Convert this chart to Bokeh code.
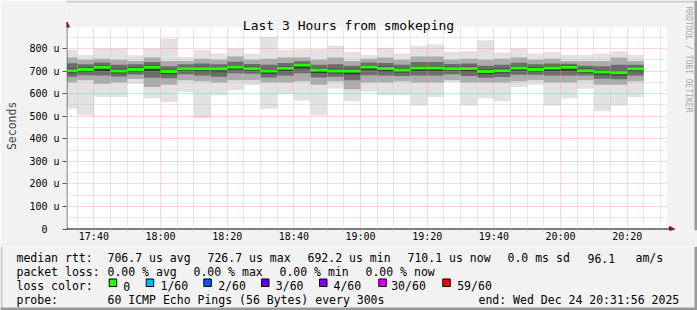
from bokeh.plotting import figure
from bokeh.layouts import column
from bokeh.models import (Range1d, FixedTicker, Label, Arrow, NormalHead,
                          BoxAnnotation, CustomJSTickFormatter, ColumnDataSource)
from bokeh.core.properties import value
from bokeh.embed import file_html
from bokeh.resources import INLINE

# ---------------- data ----------------
TITLE = "Last 3 Hours from smokeping"
RANGE_START = "17:31:56"
RANGE_HOURS = 3
END_TEXT = "Wed Dec 24 20:31:56 2025"
Y_TOP = 893.3  # microseconds at top of the graph canvas

# end time of each 5-minute (300 s) sample
bar_end = ["17:35", "17:40", "17:45", "17:50", "17:55", "18:00", "18:05",
           "18:10", "18:15", "18:20", "18:25", "18:30", "18:35", "18:40",
           "18:45", "18:50", "18:55", "19:00", "19:05", "19:10", "19:15",
           "19:20", "19:25", "19:30", "19:35", "19:40", "19:45", "19:50",
           "19:55", "20:00", "20:05", "20:10", "20:15", "20:20", "20:25"]

# RTT distribution of the 60 pings per sample (microseconds)
rtt_max = [793, 773, 800, 800, 770, 800, 844, 763, 793, 778, 800, 778, 852, 793,
           797, 797, 812, 785, 773, 803, 778, 812, 819, 785, 788, 837, 782, 800,
           778, 785, 773, 773, 778, 788, 773]
rtt_p90 = [760, 750, 755, 750, 745, 760, 745, 745, 755, 750, 765, 750, 755, 760,
           760, 750, 760, 745, 755, 760, 750, 765, 765, 750, 755, 750, 755, 760,
           750, 755, 745, 745, 745, 760, 745]
rtt_p75 = [735, 730, 738, 728, 730, 740, 722, 730, 734, 730, 742, 732, 728, 736,
           744, 728, 730, 724, 738, 736, 728, 740, 740, 732, 734, 724, 728, 737,
           730, 734, 733, 724, 722, 728, 728]
rtt_p60 = [712, 716, 726, 710, 716, 726, 706, 718, 719, 718, 727, 719, 709, 722,
           735, 714, 710, 710, 727, 720, 714, 723, 723, 719, 720, 707, 711, 723,
           716, 723, 726, 711, 705, 701, 719]
rtt_median = [702.0, 707.0, 717.0, 701.0, 707.0, 717.0, 698.0, 710.0, 710.0, 710.0,
              718.0, 710.0, 700.0, 713.0, 726.7, 705.0, 701.0, 701.0, 718.0, 711.0,
              705.0, 714.0, 714.0, 710.0, 711.0, 698.0, 702.0, 714.0, 707.0, 714.0,
              717.0, 702.0, 696.0, 692.2, 710.1]
rtt_p40 = [690, 696, 700, 690, 697, 700, 686, 700, 698, 695, 707, 700, 688, 700,
           712, 692, 690, 685, 705, 698, 694, 700, 700, 700, 698, 686, 690, 702,
           697, 700, 702, 692, 684, 680, 698]
rtt_p25 = [675, 682, 680, 676, 685, 670, 668, 686, 680, 675, 690, 688, 672, 680,
           690, 672, 675, 660, 682, 680, 678, 680, 680, 686, 678, 670, 674, 684,
           684, 680, 680, 680, 666, 664, 680]
rtt_p10 = [650, 660, 644, 650, 665, 630, 640, 660, 655, 650, 660, 660, 650, 650,
           655, 640, 655, 620, 650, 650, 655, 650, 650, 660, 650, 650, 650, 655,
           660, 650, 650, 660, 640, 640, 655]
rtt_min = [533, 504, 585, 585, 644, 580, 563, 607, 492, 593, 615, 637, 533, 600,
           570, 504, 622, 566, 610, 593, 593, 548, 585, 652, 548, 578, 566, 630,
           640, 548, 578, 622, 522, 548, 585]

x_tick_labels = ["17:40", "18:00", "18:20", "18:40", "19:00", "19:20",
                 "19:40", "20:00", "20:20"]
y_ticks = [0, 100, 200, 300, 400, 500, 600, 700, 800]

median_avg, median_max, median_min, median_now = 706.7, 726.7, 692.2, 710.1
sd_ms, am_s = 0.0, 96.1
loss_avg, loss_max, loss_min, loss_now = 0.00, 0.00, 0.00, 0.00
loss_labels = ["0", "1/60", "2/60", "3/60", "4/60", "30/60", "59/60"]
loss_colors = ["#26ff00", "#00b8ff", "#0059ff", "#5e00ff", "#7e00ff", "#dd00ff", "#ff0000"]
probe_text = "60 ICMP Echo Pings (56 Bytes) every 300s"


def to_min(s):
    parts = [int(v) for v in s.split(":")]
    while len(parts) < 3:
        parts.append(0)
    return parts[0] * 60 + parts[1] + parts[2] / 60.0


# ---------------- geometry (page pixels) ----------------
W, H = 697, 310
H1 = 246                    # height of the graph figure; legend figure below
FL, FB = 66, 230            # graph frame left / bottom (frame runs to top/right edge)
PX_X0, PX_X1 = 66.5, 666.5  # pixels of range start / end
PX_Y0 = 228.5               # pixel of 0 s
PX_YTOP = 27                # pixel of top of graph canvas
BG = "#f2f2f2"
MONO = "DejaVu Sans Mono"

x0 = to_min(RANGE_START)
x1 = x0 + RANGE_HOURS * 60
XPP = (x1 - x0) / (PX_X1 - PX_X0)            # minutes per pixel
YPP = Y_TOP / (PX_Y0 - PX_YTOP)              # microseconds per pixel


def X(px):
    return x0 + (px - PX_X0) * XPP


def Y(py):
    return (PX_Y0 - py) * YPP


p = figure(width=W, height=H1, output_backend="svg", toolbar_location=None,
           x_range=Range1d(X(FL), X(W)), y_range=Range1d(Y(FB), Y(0)),
           min_border_left=FL, min_border_right=0,
           min_border_top=0, min_border_bottom=H1 - FB)
p.frame_align = False
p.title.visible = False
p.background_fill_color = BG
p.border_fill_color = BG
p.outline_line_color = None

# graph canvas (white)
p.quad(left=[x0], right=[x1], bottom=[0], top=[Y_TOP], fill_color="white", line_color=None)

# ---------------- smoke ----------------
rights = [to_min(t) for t in bar_end]
lefts = [max(r - 5, x0) for r in rights]
p.quad(left=lefts, right=rights, bottom=rtt_min, top=rtt_max,
       fill_color="#e2e2e2", line_color=None)
p.quad(left=lefts, right=rights, bottom=rtt_p10, top=rtt_p90,
       fill_color="#acacac", line_color=None)
p.quad(left=lefts, right=rights, bottom=rtt_p25, top=rtt_p75,
       fill_color="#6c6c6c", line_color=None)
p.quad(left=lefts, right=rights, bottom=rtt_p40, top=rtt_p60,
       fill_color="#383838", line_color=None)
p.segment(x0=lefts, x1=rights, y0=rtt_median, y1=rtt_median,
          line_color=loss_colors[0], line_width=3)

# ---------------- axes & grid ----------------
x_major = [to_min(t) for t in x_tick_labels]
x_minor = [m for m in [to_min("17:35") + 5 * i for i in range(36)]
           if m < x1 and all(abs(m - t) > 0.01 for t in x_major)]
y_minor = [50 + 100 * i for i in range(9)]

p.xaxis.ticker = FixedTicker(ticks=x_major)
p.xaxis.major_label_overrides = {t: l for t, l in zip(x_major, x_tick_labels)}
p.yaxis.ticker = FixedTicker(ticks=y_ticks)
p.yaxis.formatter = CustomJSTickFormatter(
    code="return tick == 0 ? '0\\u00a0\\u00a0' : tick.toFixed(0) + ' u';")

for ax in (p.xaxis[0], p.yaxis[0]):
    ax.major_label_text_font = MONO
    ax.major_label_text_font_size = "10px"
    ax.major_label_text_color = "#000000"
    ax.minor_tick_line_color = None
    ax.axis_line_color = None
    ax.major_tick_in = 0
p.xaxis.major_tick_out = 0
p.xaxis.major_tick_line_color = None
p.xaxis.major_label_standoff = 0
p.yaxis.major_tick_line_color = "#555555"
p.yaxis.major_tick_out = 4
p.yaxis.major_label_standoff = 3
# label reads bottom-to-top; trailing spaces move it down to the graph's middle
p.yaxis.axis_label = "Seconds\u00a0\u00a0\u00a0"
p.yaxis.axis_label_text_font = MONO
p.yaxis.axis_label_text_font_size = "11.5px"
p.yaxis.axis_label_text_font_style = "normal"
p.yaxis.axis_label_standoff = 7

p.xgrid.ticker = FixedTicker(ticks=x_major, minor_ticks=x_minor)
p.ygrid.ticker = FixedTicker(ticks=y_ticks[1:], minor_ticks=y_minor)
p.xgrid.bounds = (x0, x1)
p.xgrid.cross_bounds = (Y(231), Y_TOP)
p.ygrid.bounds = (0, Y_TOP)
p.ygrid.cross_bounds = (x0, x1)
for g in (p.xgrid[0], p.ygrid[0]):
    g.grid_line_color = "#ff7070"
    g.grid_line_alpha = 0.55
    g.grid_line_dash = "1 1"
    g.minor_grid_line_color = "#b0b0b0"
    g.minor_grid_line_alpha = 0.6
    g.minor_grid_line_dash = "1 1"
    g.level = "overlay"

# axis lines with arrow heads
ARROW = "#8b1414"
p.add_layout(Arrow(end=NormalHead(size=5, fill_color=ARROW, line_color=ARROW),
                   x_start=x0, y_start=Y(PX_Y0 + 1), x_end=x0, y_end=Y(21.5),
                   line_color="#555555", line_width=1))
p.add_layout(Arrow(end=NormalHead(size=5, fill_color=ARROW, line_color=ARROW),
                   x_start=X(FL), y_start=0, x_end=X(674), y_end=0,
                   line_color="#000000", line_width=1))

# bevel (top and right)
p.add_layout(BoxAnnotation(left=X(FL), right=X(W), top=Y(0), bottom=Y(2),
                           fill_color="#cbcbcb", fill_alpha=1, line_color=None))
p.add_layout(BoxAnnotation(left=X(W - 3), right=X(W), top=Y(0), bottom=Y(FB),
                           fill_color="#999999", fill_alpha=1, line_color=None))

# title and watermark
p.add_layout(Label(x=X(348), y=Y(25), text=TITLE, text_font=MONO,
                   text_font_size="13px", text_align="center",
                   text_baseline="alphabetic", text_color="#000000"))
p.add_layout(Label(x=X(688), y=Y(59), text="RRDTOOL / TOBI OETIKER", text_font=MONO,
                   text_font_size="8px", text_align="center", text_baseline="middle",
                   angle=-1.5707963, text_color="#a8a8a8"))

# ---------------- legend figure (page pixel coordinates) ----------------
q = figure(width=W, height=H - H1, output_backend="svg", toolbar_location=None,
           x_range=Range1d(0, W), y_range=Range1d(H, H1),
           x_axis_location=None, y_axis_location=None,
           min_border=0, min_border_left=0, min_border_right=0,
           min_border_top=0, min_border_bottom=0)
q.frame_align = False
q.title.visible = False
q.grid.visible = False
q.background_fill_color = BG
q.border_fill_color = BG
q.outline_line_color = None

q.quad(left=[0, W - 3, 0], right=[2, W, W], top=[H1, H1, H - 3], bottom=[H, H, H],
       fill_color=["#cbcbcb", "#999999", "#999999"], line_color=None)

b1, b2, b3, b4 = 257.5, 271.5, 285.5, 299.5
tx, ty, tt = [], [], []


def t(px, py, s):
    tx.append(px)
    ty.append(py)
    tt.append(s)


t(16, b1, "median rtt:")
t(107, b1, f"{median_avg:.1f} us avg")
t(207, b1, f"{median_max:.1f} us max")
t(307, b1, f"{median_min:.1f} us min")
t(407, b1, f"{median_now:.1f} us now")
t(507, b1, f"{sd_ms:.1f} ms sd")
t(587, b1, f"{am_s:.1f}")
t(635, b1, "am/s")
t(16, b2, "packet loss:")
for px, v, k in [(107, loss_avg, "avg"), (193, loss_max, "max"),
                 (279, loss_min, "min"), (365, loss_now, "now")]:
    t(px, b2, f"{v:.2f} % {k}")
t(16, b3, "loss color:")
sw_x = [108.7, 145.7, 203.3, 261.0, 319.0, 378.3, 442.3]
lab_x = [122.7, 160.0, 217.7, 275.3, 333.0, 390.7, 456.7]
for lx, lab in zip(lab_x, loss_labels):
    t(lx, b3, lab)
t(16, b4, "probe:")
t(107, b4, probe_text)
t(478, b4, f"end: {END_TEXT}")

q.text(x="x", y="y", text="t", source=ColumnDataSource(dict(x=tx, y=ty, t=tt)),
       text_font=value(MONO), text_font_size=value("11.5px"),
       text_baseline="alphabetic", text_align="left", text_color="#000000")
q.quad(left=sw_x, right=[s + 7.5 for s in sw_x], top=[278.5] * 7, bottom=[286] * 7,
       fill_color=loss_colors, line_color="#000000", line_width=1)

layout = column(p, q, spacing=0)
open("out.html", "w").write(file_html(layout, INLINE))
